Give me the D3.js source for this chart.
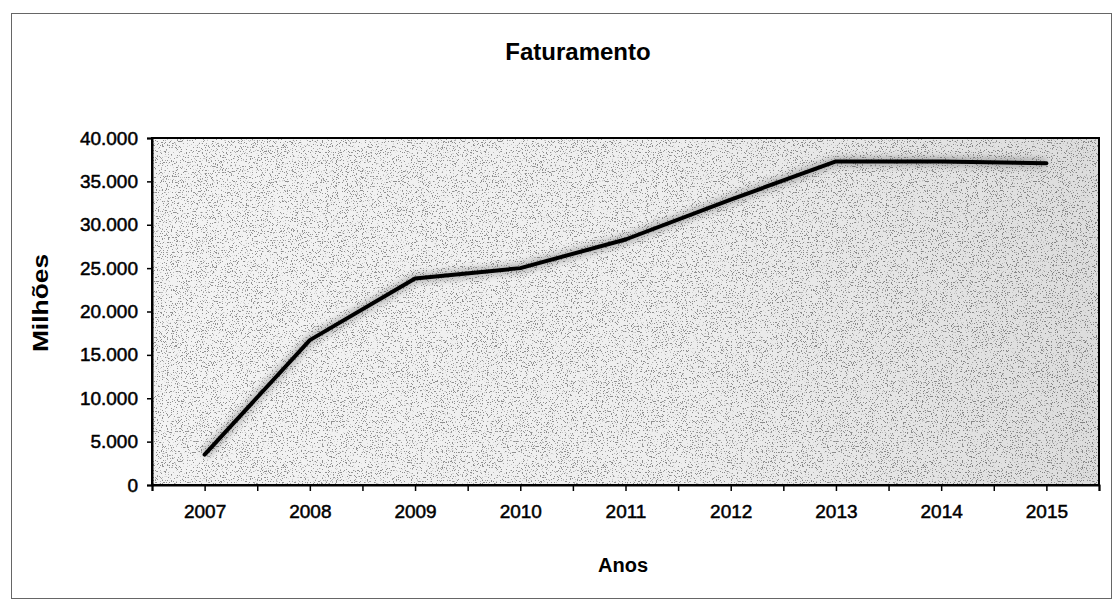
<!DOCTYPE html>
<html>
<head>
<meta charset="utf-8">
<script src="https://cdn.jsdelivr.net/npm/d3@7"></script>
<style>
  html, body { margin: 0; padding: 0; background: #fff; }
  svg { display: block; font-family: "Liberation Sans", Arial, sans-serif; }
</style>
</head>
<body>
<svg id="chart" width="1112" height="603"></svg>
<script>
// Faturamento anual (milhões)
const years = [2007, 2008, 2009, 2010, 2011, 2012, 2013, 2014, 2015];
const revenue = [3500, 16700, 23800, 25000, 28300, 32900, 37300, 37300, 37100];
const yTicks = [0, 5000, 10000, 15000, 20000, 25000, 30000, 35000, 40000];
const title = "Faturamento";
const xTitle = "Anos";
const yTitle = "Milhões";

const svg = d3.select("#chart");
const plot = { left: 152, right: 1099, top: 138, bottom: 485 };

const x = d3.scaleLinear()
  .domain([d3.min(years) - 0.5, d3.max(years) + 0.5])
  .range([plot.left, plot.right]);
const y = d3.scaleLinear()
  .domain([0, 40000])
  .range([plot.bottom, plot.top]);

const fmt = v => d3.format(",")(v).replace(/,/g, ".");

// outer frame of the chart sheet
svg.append("rect")
  .attr("x", 11.5).attr("y", 13.5)
  .attr("width", 1100).attr("height", 585)
  .attr("fill", "none").attr("stroke", "#666").attr("stroke-width", 1);

// plot background: printed grey fill with a speckled, halftone look
const defs = svg.append("defs");
const grad = defs.append("linearGradient").attr("id", "bg")
  .attr("x1", "0").attr("y1", "0").attr("x2", "1").attr("y2", "0");
grad.append("stop").attr("offset", "0").attr("stop-color", "#f3f3f3");
grad.append("stop").attr("offset", "0.55").attr("stop-color", "#eeeeee");
grad.append("stop").attr("offset", "1").attr("stop-color", "#dcdcdc");

const speck = defs.append("filter").attr("id", "speck")
  .attr("x", 0).attr("y", 0).attr("width", 1).attr("height", 1);
speck.append("feTurbulence")
  .attr("type", "fractalNoise").attr("baseFrequency", 0.8)
  .attr("numOctaves", 2).attr("seed", 7).attr("result", "noise");
speck.append("feColorMatrix").attr("in", "noise").attr("type", "matrix")
  .attr("values", "0 0 0 0 0  0 0 0 0 0  0 0 0 0 0  -14 0 0 0 5.6")
  .attr("result", "dots");
speck.append("feComposite").attr("in", "dots").attr("in2", "SourceGraphic")
  .attr("operator", "in");

const halo = defs.append("filter").attr("id", "halo")
  .attr("x", "-5%").attr("y", "-20%").attr("width", "110%").attr("height", "140%");
halo.append("feGaussianBlur").attr("stdDeviation", 3);

svg.append("rect")
  .attr("x", plot.left).attr("y", plot.top)
  .attr("width", plot.right - plot.left).attr("height", plot.bottom - plot.top)
  .attr("fill", "url(#bg)");
svg.append("rect")
  .attr("x", plot.left).attr("y", plot.top)
  .attr("width", plot.right - plot.left).attr("height", plot.bottom - plot.top)
  .attr("fill", "#000").attr("filter", "url(#speck)").attr("opacity", 0.4);

// revenue line
const line = d3.line().x((d, i) => x(years[i])).y(d => y(d));
svg.append("path")
  .datum(revenue)
  .attr("d", line)
  .attr("fill", "none").attr("stroke", "#666").attr("stroke-width", 9)
  .attr("opacity", 0.45).attr("filter", "url(#halo)");
svg.append("path")
  .datum(revenue)
  .attr("d", line)
  .attr("fill", "none").attr("stroke", "#000").attr("stroke-width", 4)
  .attr("stroke-linejoin", "round").attr("stroke-linecap", "round");

// plot border
svg.append("rect")
  .attr("x", plot.left).attr("y", plot.top)
  .attr("width", plot.right - plot.left).attr("height", plot.bottom - plot.top)
  .attr("fill", "none").attr("stroke", "#000").attr("stroke-width", 2);

// axes
const xTickVals = d3.range(d3.min(years) - 0.5, d3.max(years) + 0.51, 0.5);
const xAxis = d3.axisBottom(x)
  .tickValues(xTickVals)
  .tickSize(6).tickPadding(14)
  .tickFormat(d => Number.isInteger(d) ? String(d) : "");
const gx = svg.append("g").attr("transform", `translate(0,${plot.bottom})`).call(xAxis);
gx.select(".domain").attr("stroke", "#000").attr("stroke-width", 2);
gx.selectAll(".tick line").attr("stroke", "#000").attr("stroke-width", 1.5);
gx.selectAll(".tick text")
  .attr("font-size", 19).attr("fill", "#000")
  .attr("stroke", "#000").attr("stroke-width", 0.5)
  .attr("font-family", "Liberation Sans, Arial, sans-serif");

const yAxis = d3.axisLeft(y)
  .tickValues(yTicks)
  .tickSize(5).tickPadding(9)
  .tickFormat(fmt);
const gy = svg.append("g").attr("transform", `translate(${plot.left},0)`).call(yAxis);
gy.select(".domain").attr("stroke", "#000").attr("stroke-width", 2);
gy.selectAll(".tick line").attr("stroke", "#000").attr("stroke-width", 1.5);
gy.selectAll(".tick text")
  .attr("font-size", 19).attr("fill", "#000")
  .attr("stroke", "#000").attr("stroke-width", 0.5)
  .attr("font-family", "Liberation Sans, Arial, sans-serif");

// titles
svg.append("text")
  .attr("x", 578).attr("y", 60)
  .attr("text-anchor", "middle")
  .attr("font-size", 24).attr("font-weight", "bold")
  .text(title);

svg.append("text")
  .attr("x", 623).attr("y", 572)
  .attr("text-anchor", "middle")
  .attr("font-size", 20).attr("font-weight", "bold")
  .text(xTitle);

svg.append("text")
  .attr("transform", "translate(48,303) rotate(-90) scale(1.2,1)")
  .attr("text-anchor", "middle")
  .attr("font-size", 22).attr("font-weight", "bold")
  .text(yTitle);
</script>
</body>
</html>
